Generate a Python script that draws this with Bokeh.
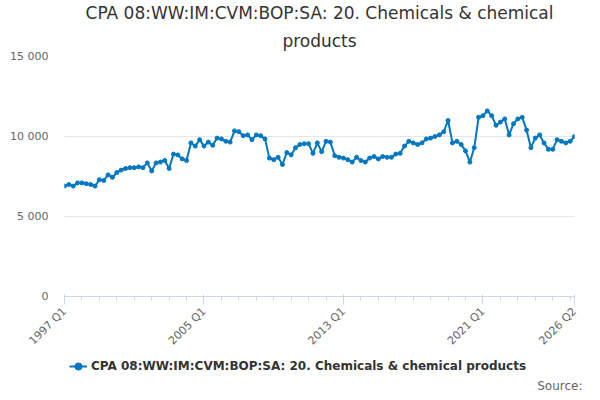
from bokeh.plotting import figure
from bokeh.embed import file_html
from bokeh.resources import INLINE
from bokeh.layouts import column
from bokeh.models import FixedTicker, Legend, LegendItem, Title, Range1d

seg_a = [6900,7000,6900,7100,7100,7050,7000,6900,7300,7250,7600,7450,7750,7900,8000,8050,8050,8100,8050,8350,
         7850,8350,8400,8500,8000,8900,8850,8600,8500,9600,9400,9800,9400]
seg_b = [9650,9450,9900,9850,9700,9650,10350,10300,10050,10100,9800,10100,10050,9850,8650,8550,8700,8250,9000,8850,
         9300,9500,9550,9550,8950,9600,9050,9700,9650,8800,8700,8650]
seg_c = [8550,8400,8700,8500,8400,8650,8750,8600,8750,8700,8700,8900,8950,9400,9700,9600,9500,9600,9850,9900,
         10000,10100,10300]
seg_d = [11000,9600,9700,9500,9100,8400,9300,11200,11300]
seg_e = [11600,11300,10700,10900,11100,10100,10800,11100,11200,10400,9300,9900,10100,9600,9200,9200,9800,9700,9600,9700,10000]
values = seg_a + seg_b + seg_c + seg_d + seg_e
quarters = [f"{1997 + i // 4} Q{i % 4 + 1}" for i in range(len(values))]
tick_labels = ["1997 Q1", "2005 Q1", "2013 Q1", "2021 Q1", "2026 Q2"]
y_ticks = [0, 5000, 10000, 15000]
y_labels = ["0", "5 000", "10 000", "15 000"]
name = "CPA 08:WW:IM:CVM:BOP:SA: 20. Chemicals & chemical products"
BLUE = "#0077c0"
FONT = "DejaVu Sans"

x = list(range(len(values)))
p = figure(width=584, height=355, output_backend="svg", toolbar_location=None,
           x_range=(0, len(values) - 1), y_range=(0, 15000), min_border_left=64, min_border_right=10,
           min_border_top=6, min_border_bottom=0)
p.add_layout(Title(text="products", align="center", text_font_size="17px", text_font=FONT,
                   text_color="#333333", text_font_style="normal", standoff=12, offset=0,
                   text_line_height=0.9), "above")
p.add_layout(Title(text="CPA 08:WW:IM:CVM:BOP:SA: 20. Chemicals & chemical", align="center", text_font_size="17px",
                   text_font=FONT, text_color="#333333", text_font_style="normal", standoff=0,
                   text_line_height=0.9), "above")
p.line(x, values, line_color=BLUE, line_width=2)
p.scatter(x, values, size=4, color=BLUE)
p.outline_line_color = None
p.xgrid.grid_line_color = None
p.ygrid.grid_line_color = "#e6e6e6"
p.yaxis.ticker = FixedTicker(ticks=y_ticks)
p.yaxis.major_label_overrides = {t: l for t, l in zip(y_ticks, y_labels)}
p.yaxis.axis_line_color = None
p.yaxis.major_tick_line_color = None
p.yaxis.minor_tick_line_color = None
p.yaxis.major_label_text_color = "#666666"
p.yaxis.major_label_text_font_size = "11px"
p.yaxis.major_label_text_font = FONT
p.yaxis.major_label_standoff = 10
xt = [quarters.index(t) for t in tick_labels]
p.xaxis.ticker = FixedTicker(ticks=xt, minor_ticks=list(range(0, len(values), 4)))
p.xaxis.major_label_overrides = {i: quarters[i] for i in xt}
p.xaxis.major_label_orientation = 0.785
p.xaxis.major_label_text_color = "#666666"
p.xaxis.major_label_text_font_size = "11px"
p.xaxis.major_label_text_font = FONT
p.xaxis.axis_line_color = "#ccd6eb"
p.xaxis.major_tick_line_color = "#ccd6eb"
p.xaxis.minor_tick_line_color = "#ccd6eb"
p.xaxis.major_tick_out = 8
p.xaxis.minor_tick_out = 4

q = figure(width=584, height=37, output_backend="svg", toolbar_location=None,
           x_range=Range1d(0, 1), y_range=Range1d(0, 1), min_border=0)
q.axis.visible = False
q.grid.visible = False
q.outline_line_color = None
lr = q.line([-5, -4], [-5, -5], line_color=BLUE, line_width=2)
sr = q.scatter([-5], [-5], size=5, color=BLUE)
leg = Legend(items=[LegendItem(label=name, renderers=[lr, sr])], location=(5, 0), orientation="horizontal",
             label_text_font_size="12px", label_text_font_style="bold", label_text_color="#333333",
             label_text_font=FONT, border_line_color=None, background_fill_alpha=0, glyph_width=18,
             padding=0, margin=0, label_standoff=4)
q.add_layout(leg, "center")
q.add_layout(Title(text="Source:", align="right", text_font_size="12px", text_color="#666666",
                   text_font=FONT, text_font_style="normal", standoff=0, offset=-8), "below")
open("out.html", "w").write(file_html(column(p, q, spacing=0), INLINE))
